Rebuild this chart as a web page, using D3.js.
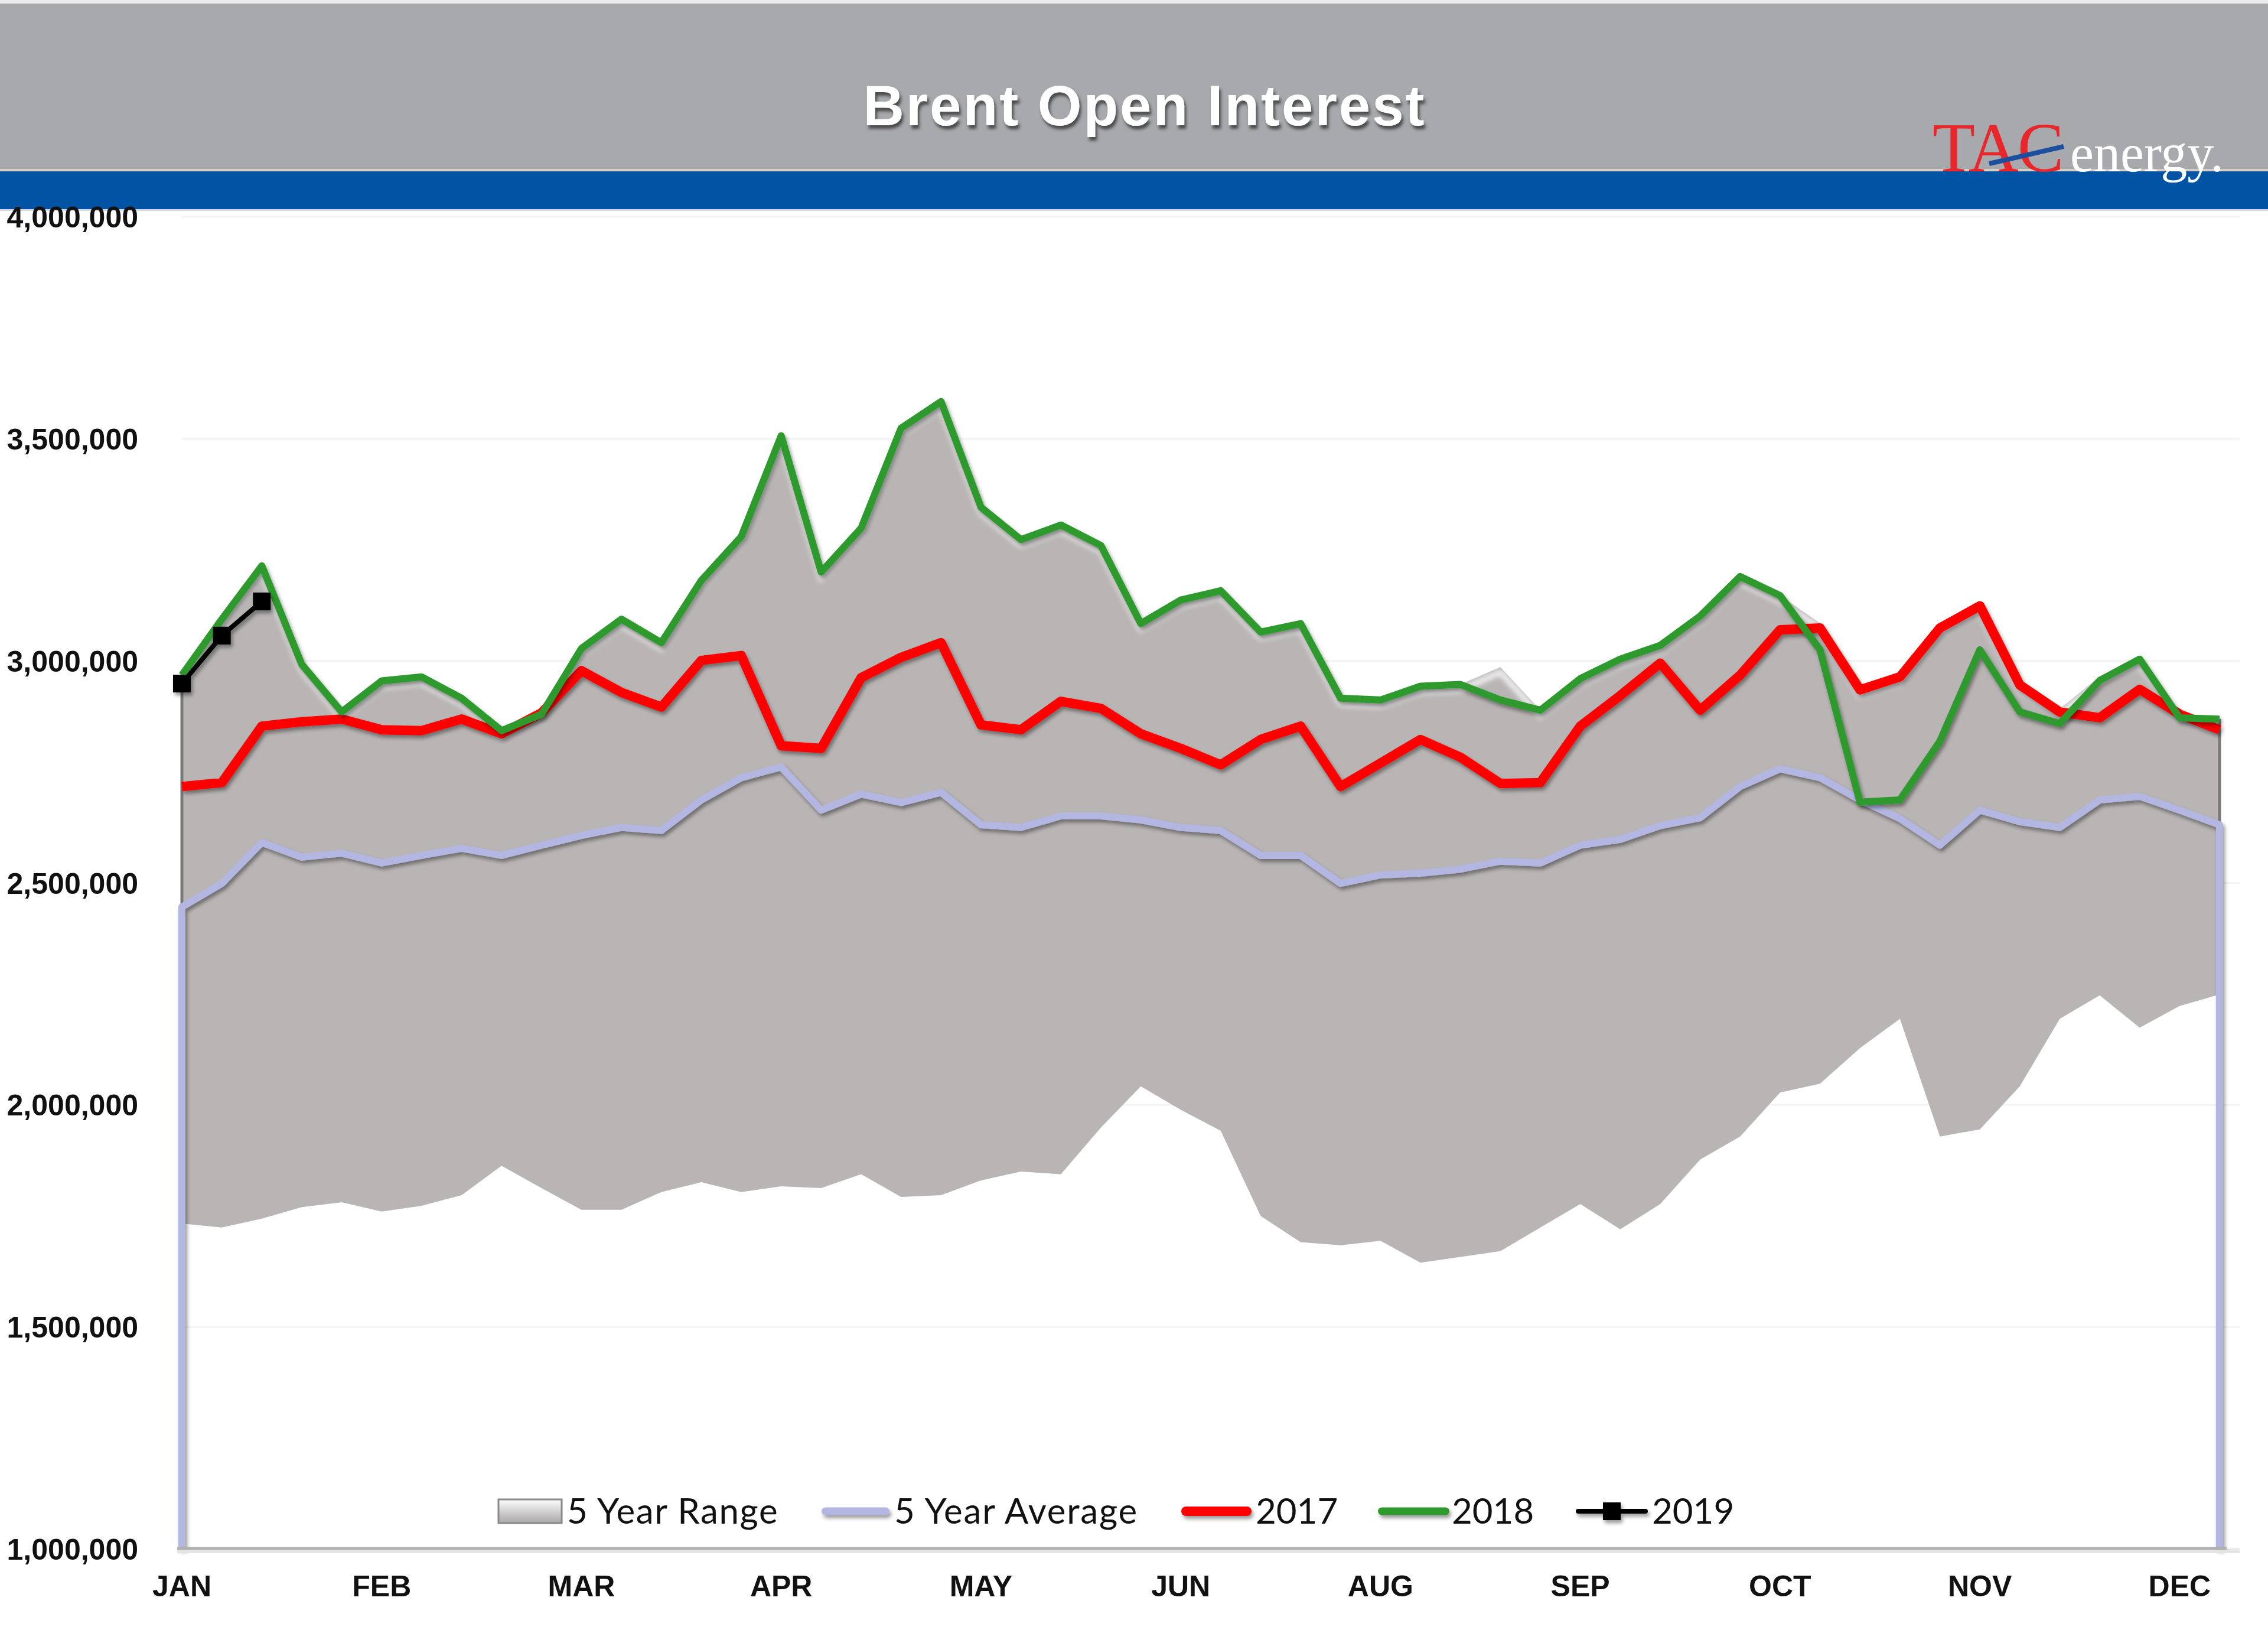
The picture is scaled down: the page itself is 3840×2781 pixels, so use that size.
<!DOCTYPE html>
<html>
<head>
<meta charset="utf-8">
<script src="https://cdn.jsdelivr.net/npm/d3@7"></script>
<style>
  html, body { margin: 0; padding: 0; background: #ffffff; }
  svg { display: block; }
</style>
</head>
<body>
<div id="chart"></div>
<script>
// ---------------- DATA ----------------
const weeks = [1,2,3,4,5,6,7,8,9,10,11,12,13,14,15,16,17,18,19,20,21,22,23,24,25,26,
               27,28,29,30,31,32,33,34,35,36,37,38,39,40,41,42,43,44,45,46,47,48,49,50,51,52];
const monthLabels = ["JAN","FEB","MAR","APR","MAY","JUN","AUG","SEP","OCT","NOV","DEC"];
const monthWeeks  = [1,6,11,16,21,26,31,36,41,46,51];
const yTicks = [1000000,1500000,2000000,2500000,3000000,3500000,4000000];

const rangeMax = [2968000,3094000,3214000,2992000,2885000,2955000,2964000,2916000,2843000,2883000,
                  3028000,3094000,3041000,3181000,3280000,3507000,3200000,3299000,3524000,3584000,
                  3346000,3273000,3306000,3260000,3084000,3137000,3158000,3065000,3084000,2916000,
                  2912000,2943000,2947000,2986000,2889000,2960000,3004000,3035000,3101000,3190000,
                  3147000,3085000,2935000,2964000,3074000,3124000,2946000,2892000,2965000,3004000,
                  2882000,2869000];
const rangeMin = [1733000,1724000,1744000,1770000,1781000,1760000,1773000,1797000,1863000,1813000,
                  1764000,1764000,1804000,1826000,1804000,1817000,1813000,1844000,1793000,1797000,
                  1830000,1850000,1844000,1949000,2042000,1989000,1942000,1750000,1691000,1684000,
                  1694000,1645000,1658000,1671000,1724000,1777000,1720000,1777000,1877000,1929000,
                  2028000,2048000,2128000,2194000,1929000,1945000,2042000,2194000,2247000,2174000,
                  2223000,2249000];
const avg5 = [2446000,2499000,2591000,2558000,2567000,2545000,2562000,2578000,2562000,2585000,
              2607000,2625000,2618000,2687000,2737000,2761000,2664000,2700000,2681000,2704000,
              2631000,2625000,2651000,2651000,2642000,2625000,2618000,2562000,2562000,2499000,
              2518000,2522000,2531000,2549000,2545000,2585000,2598000,2629000,2647000,2717000,
              2757000,2737000,2687000,2645000,2585000,2664000,2638000,2625000,2687000,2695000,
              2664000,2631000];
const y2017 = [2717000,2726000,2853000,2863000,2869000,2845000,2843000,2869000,2836000,2883000,
               2978000,2929000,2896000,3001000,3012000,2809000,2803000,2962000,3008000,3041000,
               2856000,2845000,2909000,2893000,2836000,2803000,2766000,2823000,2853000,2717000,
               2770000,2823000,2783000,2724000,2726000,2853000,2922000,2995000,2889000,2968000,
               3070000,3074000,2935000,2964000,3074000,3124000,2946000,2885000,2872000,2936000,
               2880000,2845000];
const y2018 = [2968000,3094000,3214000,2992000,2885000,2955000,2964000,2916000,2843000,2880000,
               3028000,3094000,3041000,3181000,3280000,3507000,3200000,3299000,3524000,3584000,
               3346000,3273000,3306000,3260000,3084000,3137000,3158000,3065000,3084000,2916000,
               2912000,2943000,2947000,2912000,2889000,2960000,3004000,3035000,3101000,3190000,
               3147000,3025000,2682000,2687000,2819000,3025000,2885000,2859000,2956000,3004000,
               2872000,2869000];
const y2019 = [2949000,3057000,3134000];

const legendNames = ["5 Year Range","5 Year Average","2017","2018","2019"];
const titleText = "Brent Open Interest";

// ---------------- COLOURS ----------------
const C = {
  header: "#a7a9ac", blue: "#0054a3", area: "#b9b5b5",
  avg: "#b2b6e0", red: "#ff0000", green: "#2f9a2f", black: "#000000"
};

// ---------------- SETUP ----------------
const W = 3840, H = 2781;
const svg = d3.select("#chart").append("svg").attr("width", W).attr("height", H)
  .attr("viewBox", `0 0 ${W} ${H}`);
const defs = svg.append("defs");

const ls = defs.append("filter").attr("id","lineShadow")
  .attr("filterUnits","userSpaceOnUse")
  .attr("x",0).attr("y",0).attr("width",W).attr("height",H);
ls.append("feDropShadow").attr("dx",3).attr("dy",5).attr("stdDeviation",3)
  .attr("flood-color","#000").attr("flood-opacity",0.4);

const ts = defs.append("filter").attr("id","titleShadow")
  .attr("x","-10%").attr("y","-30%").attr("width","120%").attr("height","160%");
ts.append("feDropShadow").attr("dx",3).attr("dy",6).attr("stdDeviation",2.5)
  .attr("flood-color","#3a3a3a").attr("flood-opacity",0.85);

const blur = defs.append("filter").attr("id","hlBlur")
  .attr("filterUnits","userSpaceOnUse")
  .attr("x",0).attr("y",0).attr("width",W).attr("height",H);
blur.append("feGaussianBlur").attr("stdDeviation",4);

const lg = defs.append("linearGradient").attr("id","legRange")
  .attr("x1",0).attr("y1",0).attr("x2",0).attr("y2",1);
lg.append("stop").attr("offset","0%").attr("stop-color","#ffffff");
lg.append("stop").attr("offset","45%").attr("stop-color","#d8d6d6");
lg.append("stop").attr("offset","100%").attr("stop-color","#a9a6a6");

// scales
const x = d3.scalePoint().domain(weeks).range([308, 3758]);
const y = d3.scaleLinear().domain([1000000, 4000000]).range([2622, 367]);
const idx = weeks.map((w, i) => i);

// gridlines
svg.append("g").selectAll("line").data(yTicks.slice(1)).join("line")
  .attr("x1", 308).attr("x2", 3792)
  .attr("y1", d => y(d)).attr("y2", d => y(d))
  .attr("stroke", "#f3f3f3").attr("stroke-width", 3);

// range area
const areaGen = d3.area()
  .x(i => x(weeks[i])).y0(i => y(rangeMin[i])).y1(i => y(rangeMax[i]));
defs.append("clipPath").attr("id","areaClip").append("path").attr("d", areaGen(idx));
svg.append("path").attr("d", areaGen(idx)).attr("fill", C.area);
// bevel highlight along top edge
const maxLine = d3.line().x(i => x(weeks[i])).y(i => y(rangeMax[i]));
svg.append("g").attr("clip-path","url(#areaClip)")
  .append("path").attr("d", maxLine(idx))
  .attr("transform","translate(0,9)")
  .attr("fill","none").attr("stroke","#ffffff").attr("stroke-width",9)
  .attr("stroke-opacity",0.85).attr("filter","url(#hlBlur)");
// darker edges left / right
[0, weeks.length - 1].forEach(i => {
  svg.append("line").attr("x1", x(weeks[i])).attr("x2", x(weeks[i]))
    .attr("y1", y(rangeMax[i])).attr("y2", y(rangeMin[i]))
    .attr("stroke", "#7a7878").attr("stroke-width", 5);
});

// 5-year average (drops to axis at both ends)
const avgPts = [[x(weeks[0]), y(1000000)]]
  .concat(idx.map(i => [x(weeks[i]), y(avg5[i])]))
  .concat([[x(weeks[weeks.length-1]), y(1000000)]]);
svg.append("path").attr("d", d3.line()(avgPts))
  .attr("fill","none").attr("stroke", C.avg).attr("stroke-width", 12)
  .attr("stroke-linejoin","round").attr("filter","url(#lineShadow)");

const line = arr => d3.line().x((d, i) => x(weeks[i])).y(d => y(d))(arr);
svg.append("path").attr("d", line(y2017)).attr("fill","none")
  .attr("stroke", C.red).attr("stroke-width", 16).attr("stroke-linejoin","round")
  .attr("filter","url(#lineShadow)");
svg.append("path").attr("d", line(y2018)).attr("fill","none")
  .attr("stroke", C.green).attr("stroke-width", 12).attr("stroke-linejoin","round")
  .attr("filter","url(#lineShadow)");
const g19 = svg.append("g").attr("filter","url(#lineShadow)");
g19.append("path").attr("d", line(y2019)).attr("fill","none")
  .attr("stroke", C.black).attr("stroke-width", 8);
g19.selectAll("rect").data(y2019).join("rect")
  .attr("x", (d, i) => x(weeks[i]) - 15).attr("y", d => y(d) - 15)
  .attr("width", 30).attr("height", 30).attr("fill", C.black);

// bottom axis line
svg.append("line").attr("x1", 300).attr("x2", 3792).attr("y1", 2625).attr("y2", 2625)
  .attr("stroke", "#e4e4e4").attr("stroke-width", 8);
svg.append("line").attr("x1", 300).attr("x2", 3770).attr("y1", 2621).attr("y2", 2621)
  .attr("stroke", "#b0b0b0").attr("stroke-width", 5);

// x labels
svg.append("g").selectAll("text").data(monthLabels).join("text")
  .attr("x", (d, i) => x(monthWeeks[i])).attr("y", 2702)
  .attr("text-anchor","middle")
  .attr("font-family","'Liberation Sans', Arial, sans-serif")
  .attr("font-weight","bold").attr("font-size", 50).attr("fill","#111")
  .text(d => d);

// legend
const leg = svg.append("g").attr("font-family","Lato, 'Open Sans', sans-serif")
  .attr("font-size", 60).attr("fill","#111");
const legY = 2558;
leg.append("rect").attr("x", 844).attr("y", legY - 20).attr("width", 107).attr("height", 40)
  .attr("fill","url(#legRange)").attr("stroke","#8a8888").attr("stroke-width",3);
const legItems = [
  {name: legendNames[0], sx: null, tx: 960, sp: 1.6},
  {name: legendNames[1], sx: [1391, 1506], color: C.avg, w: 13, tx: 1514, sp: 1.8},
  {name: legendNames[2], sx: [2000, 2119], color: C.red, w: 16, tx: 2126, sp: 0},
  {name: legendNames[3], sx: [2333, 2454], color: C.green, w: 13, tx: 2458, sp: 0},
  {name: legendNames[4], sx: [2668, 2790], color: C.black, w: 8, tx: 2797, sp: 0, marker: true}
];
legItems.forEach(it => {
  if (it.sx) {
    const gg = leg.append("g").attr("filter","url(#lineShadow)");
    gg.append("rect").attr("x", it.sx[0]).attr("y", legY - it.w / 2)
      .attr("width", it.sx[1] - it.sx[0]).attr("height", it.w)
      .attr("rx", it.w / 2).attr("fill", it.color);
    if (it.marker) {
      gg.append("rect").attr("x", (it.sx[0] + it.sx[1]) / 2 - 15).attr("y", legY - 15)
        .attr("width", 30).attr("height", 30).attr("fill", it.color);
    }
  }
  leg.append("text").attr("x", it.tx).attr("y", legY + 21)
    .attr("letter-spacing", it.sp).text(it.name);
});

// ---------------- HEADER ----------------
const hdr = svg.append("g");
hdr.append("rect").attr("x",0).attr("y",0).attr("width",W).attr("height",6).attr("fill","#ececec");
hdr.append("rect").attr("x",0).attr("y",6).attr("width",W).attr("height",283).attr("fill",C.header);
hdr.append("rect").attr("x",0).attr("y",286).attr("width",W).attr("height",4).attr("fill","#d2cfca");
hdr.append("rect").attr("x",0).attr("y",290).attr("width",W).attr("height",64).attr("fill",C.blue);
hdr.append("rect").attr("x",0).attr("y",354).attr("width",W).attr("height",3).attr("fill","#d3d9e6");

hdr.append("text").attr("x", 1938).attr("y", 212).attr("text-anchor","middle")
  .attr("font-family","'Liberation Sans', Arial, sans-serif").attr("font-weight","bold")
  .attr("font-size", 96).attr("letter-spacing", 3).attr("fill","#ffffff")
  .attr("filter","url(#titleShadow)").text(titleText);

// logo
const logo = hdr.append("g").attr("font-family","'Liberation Serif', 'Times New Roman', serif");
logo.append("text").attr("x", 3272).attr("y", 290).attr("font-size", 118)
  .attr("letter-spacing", -2).attr("fill","#e8262c").text("TAC");
logo.append("line").attr("x1", 3368).attr("y1", 277).attr("x2", 3494).attr("y2", 248)
  .attr("stroke","#1d4f9e").attr("stroke-width", 8);
logo.append("text").attr("x", 3505).attr("y", 290).attr("font-size", 90)
  .attr("fill","#ffffff").text("energy.");

// y labels (drawn on top of the header band, as in the original)
svg.append("g").selectAll("text").data(yTicks).join("text")
  .attr("x", 234).attr("y", d => y(d) + 18)
  .attr("text-anchor","end")
  .attr("font-family","'Liberation Sans', Arial, sans-serif")
  .attr("font-weight","bold").attr("font-size", 50).attr("fill","#111")
  .text(d => d3.format(",")(d));
</script>
</body>
</html>
